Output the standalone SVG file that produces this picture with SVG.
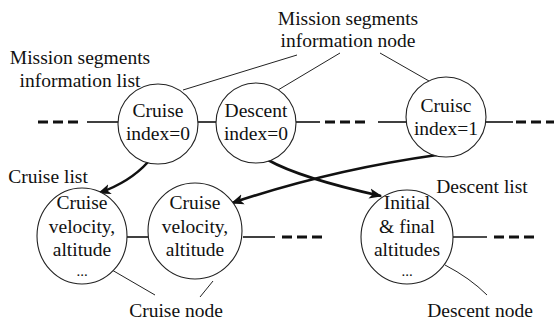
<svg xmlns="http://www.w3.org/2000/svg" width="554" height="323" viewBox="0 0 554 323">
  <defs>
    <style>
      text { font-family: 'Liberation Serif', 'Times New Roman', serif; font-size: 19.5px; fill: #111; text-anchor: middle; }
      text.dots { font-size: 15px; }
      .node { fill: #fff; stroke: #222; stroke-width: 1.1; }
      .link { stroke: #111; stroke-width: 1.6; fill: none; }
      .dash { stroke: #111; stroke-width: 3.2; fill: none; stroke-dasharray: 10 5; }
      .ptr { stroke: #222; stroke-width: 1; fill: none; }
      .arr { stroke: #111; stroke-width: 2.6; fill: none; marker-end: url(#head); }
    </style>
    <marker id="head" viewBox="0 0 10 10" refX="9" refY="5" markerWidth="5" markerHeight="5" orient="auto" markerUnits="strokeWidth">
      <path d="M0,1 L10,5 L0,9 L2.5,5 Z" fill="#111"/>
    </marker>
  </defs>

  <!-- list links and pointer lines -->
  <g id="connectors">
    <!-- upper list -->
    <line class="dash" x1="38" y1="122" x2="80" y2="122"/>
    <line class="link" x1="87" y1="122" x2="118" y2="122"/>
    <line class="link" x1="198" y1="122" x2="216" y2="122"/>
    <line class="link" x1="296" y1="122" x2="320" y2="122"/>
    <line class="dash" x1="325" y1="122" x2="370" y2="122"/>
    <line class="link" x1="378" y1="122" x2="406" y2="122"/>
    <line class="link" x1="486" y1="122" x2="513" y2="122"/>
    <line class="dash" x1="516" y1="122" x2="554" y2="122"/>
    <!-- lower lists -->
    <line class="link" x1="127" y1="237" x2="148" y2="237"/>
    <line class="link" x1="243" y1="237" x2="275" y2="237"/>
    <line class="dash" x1="282" y1="237" x2="326" y2="237"/>
    <line class="link" x1="453" y1="237" x2="487" y2="237"/>
    <line class="dash" x1="494" y1="237" x2="538" y2="237"/>
    <!-- label pointers -->
    <line class="ptr" x1="297" y1="55" x2="183" y2="90"/>
    <line class="ptr" x1="340" y1="53" x2="278" y2="90"/>
    <line class="ptr" x1="380" y1="53" x2="429" y2="81"/>
    <line class="ptr" x1="112" y1="270" x2="155" y2="295"/>
    <line class="ptr" x1="213" y1="281" x2="200" y2="297"/>
    <path class="ptr" d="M445,265 Q470,278 487,295"/>
    <!-- sublist arrows -->
    <path class="arr" d="M148,162 Q130,182 99,193"/>
    <path class="arr" d="M437,155 Q330,170 232,203"/>
    <path class="arr" d="M268,160 Q300,178 381,196"/>
  </g>

  <g id="cruise0">
    <circle class="node" cx="158" cy="124" r="40"/>
    <text x="158" y="117">Cruise</text>
    <text x="158" y="140">index=0</text>
  </g>
  <g id="descent0">
    <circle class="node" cx="256" cy="123" r="40"/>
    <text x="256" y="117">Descent</text>
    <text x="256" y="140">index=0</text>
  </g>
  <g id="cruise1">
    <circle class="node" cx="446" cy="117" r="40"/>
    <text x="446" y="112">Cruisc</text>
    <text x="446" y="135">index=1</text>
  </g>
  <g id="cruiseNodeA">
    <ellipse class="node" cx="82" cy="236" rx="45" ry="48"/>
    <text x="82" y="209">Cruise</text>
    <text x="82" y="233">velocity,</text>
    <text x="82" y="256">altitude</text>
    <text class="dots" x="82" y="276">...</text>
  </g>
  <g id="cruiseNodeB">
    <ellipse class="node" cx="195" cy="231" rx="47" ry="48"/>
    <text x="195" y="209">Cruise</text>
    <text x="195" y="233">velocity,</text>
    <text x="195" y="256">altitude</text>
  </g>
  <g id="descentNode">
    <ellipse class="node" cx="407" cy="237" rx="46" ry="47"/>
    <text x="407" y="209">Initial</text>
    <text x="407" y="233">&amp; final</text>
    <text x="407" y="256">altitudes</text>
    <text class="dots" x="407" y="276">...</text>
  </g>

  <g id="labels">
    <text x="348" y="25">Mission segments</text>
    <text x="348" y="47">information node</text>
    <text x="80" y="64">Mission segments</text>
    <text x="80" y="87">information list</text>
    <text x="48" y="183">Cruise list</text>
    <text x="482" y="193">Descent list</text>
    <text x="176" y="317">Cruise node</text>
    <text x="480" y="317">Descent node</text>
  </g>
</svg>
